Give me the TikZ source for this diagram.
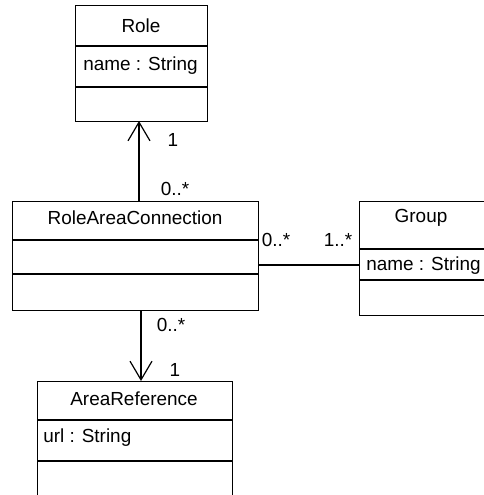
\documentclass[tikz,border=0pt]{standalone}
\usepackage{fontspec}
\setmainfont{Liberation Sans}
\usetikzlibrary{arrows.meta}
\begin{document}
\begin{tikzpicture}[x=0.75pt,y=-0.75pt,
  box/.style={draw,line width=0.9pt,anchor=north west,inner sep=0pt},
  divider/.style={line width=2pt},
  lbl/.style={font=\fontsize{14.2}{16}\selectfont,inner sep=0pt},
  assoc/.style={line width=0.9pt},
  nav/.style={line width=0.9pt,-{Straight Barb[length=14pt,width=16.5pt,line width=0.9pt]}}]
\useasboundingbox (0,0) rectangle (484,495);
% Role
\node[box,minimum width=99pt,minimum height=87pt] (role) at (75,5) {};
\draw[divider] (75,46) -- (207,46);
\draw[divider] (75,87) -- (207,87);
\node[lbl] (roleT) at (141,25.5) {Role};
\node[lbl,anchor=west] (roleA) at (83,66) {name : String};
% RoleAreaConnection
\node[box,minimum width=184.5pt,minimum height=81.75pt] (rac) at (12,201) {};
\draw[divider] (12,240) -- (258,240);
\draw[divider] (12,274) -- (258,274);
\node[lbl] (racT) at (135,218) {RoleAreaConnection};
% Group
\node[box,minimum width=93.75pt,minimum height=85.5pt] (grp) at (359,201) {};
\draw[divider] (359,249) -- (484,249);
\draw[divider] (359,280) -- (484,280);
\node[lbl] (grpT) at (421,218) {Group};
\node[lbl,anchor=west] (grpA) at (366,266) {name : String};
% AreaReference
\node[box,minimum width=146.25pt,minimum height=90pt] (ar) at (37,381) {};
\draw[divider] (37,420) -- (232,420);
\draw[divider] (37,461) -- (232,461);
\node[lbl] (arT) at (134,399) {AreaReference};
\node[lbl,anchor=west] (arA) at (43,438) {url : String};
% connectors
\coordinate (c1s) at (139,201);
\coordinate (c1e) at (139,121);
\draw[nav] (c1s) -- (c1e);
\coordinate (c2s) at (258,265);
\coordinate (c2e) at (359,265);
\draw[assoc] (c2s) -- (c2e);
\coordinate (c3s) at (141,310);
\coordinate (c3e) at (141,381);
\draw[nav] (c3s) -- (c3e);
% multiplicities
\node[lbl] (m1) at (173,140) {1};
\node[lbl] (m2) at (175,189) {0..*};
\node[lbl] (m3) at (276,240) {0..*};
\node[lbl] (m4) at (338,240) {1..*};
\node[lbl] (m5) at (171,325) {0..*};
\node[lbl] (m6) at (175,370) {1};
\end{tikzpicture}
\end{document}
